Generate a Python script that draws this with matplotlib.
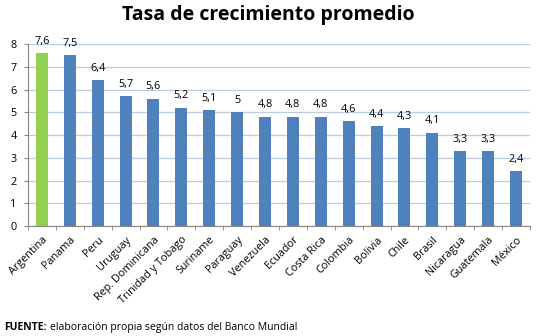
import matplotlib.pyplot as plt
import numpy as np

paises = ["Argentina", "Panama", "Peru", "Uruguay", "Rep. Dominicana",
          "Trinidad y Tobago", "Suriname", "Paraguay", "Venezuela", "Ecuador",
          "Costa Rica", "Colombia", "Bolivia", "Chile", "Brasil", "Nicaragua",
          "Guatemala", "México"]
tasas = [7.6, 7.5, 6.4, 5.7, 5.6, 5.2, 5.1, 5.0, 4.8, 4.8, 4.8, 4.6, 4.4,
         4.3, 4.1, 3.3, 3.3, 2.4]
etiquetas = ["7,6", "7,5", "6,4", "5,7", "5,6", "5,2", "5,1", "5", "4,8", "4,8",
             "4,8", "4,6", "4,4", "4,3", "4,1", "3,3", "3,3", "2,4"]

plt.rcParams['font.family'] = ['Open Sans', 'DejaVu Sans']

fig = plt.figure(figsize=(5.37, 3.36), dpi=100)
ax = fig.add_axes([0.052, 0.327, 0.935, 0.542])

x = np.arange(len(paises))
colores = ["#92d050"] + ["#4f81bd"] * (len(paises) - 1)
ax.bar(x, tasas, width=0.43, color=colores, zorder=3)
for xi, v, t in zip(x, tasas, etiquetas):
    ax.text(xi, v + 0.28, t, ha="center", va="bottom", fontsize=7.8, color="black")

ax.set_xlim(-0.5, len(paises) - 0.5)
ax.set_ylim(0, 8)
ax.set_yticks(range(0, 9))
ax.yaxis.grid(True, color="#b9cde5", linewidth=0.9, zorder=0)
ax.tick_params(axis="y", labelsize=7.8, length=3, color="#868686", pad=5)
ax.set_xticks(x)
ax.set_xticklabels(paises, rotation=45, ha="right", rotation_mode="anchor", fontsize=7.8)
ax.tick_params(axis="x", length=0, pad=6)
ax.set_xticks(np.arange(-0.5, len(paises)), minor=True)
ax.tick_params(axis="x", which="minor", length=3, color="#868686")
for s in ["top", "right"]:
    ax.spines[s].set_visible(False)
for s in ["left", "bottom"]:
    ax.spines[s].set_color("#868686")

fig.text(0.5, 0.955, "Tasa de crecimiento promedio", ha="center", va="center",
         fontsize=14, fontweight="bold")
fig.text(0.008, 0.025, "FUENTE:", fontsize=7.5, fontweight="bold", va="center")
fig.text(0.093, 0.025, "elaboración propia según datos del Banco Mundial",
         fontsize=7.5, va="center")

fig.savefig("out.png", dpi=100)
